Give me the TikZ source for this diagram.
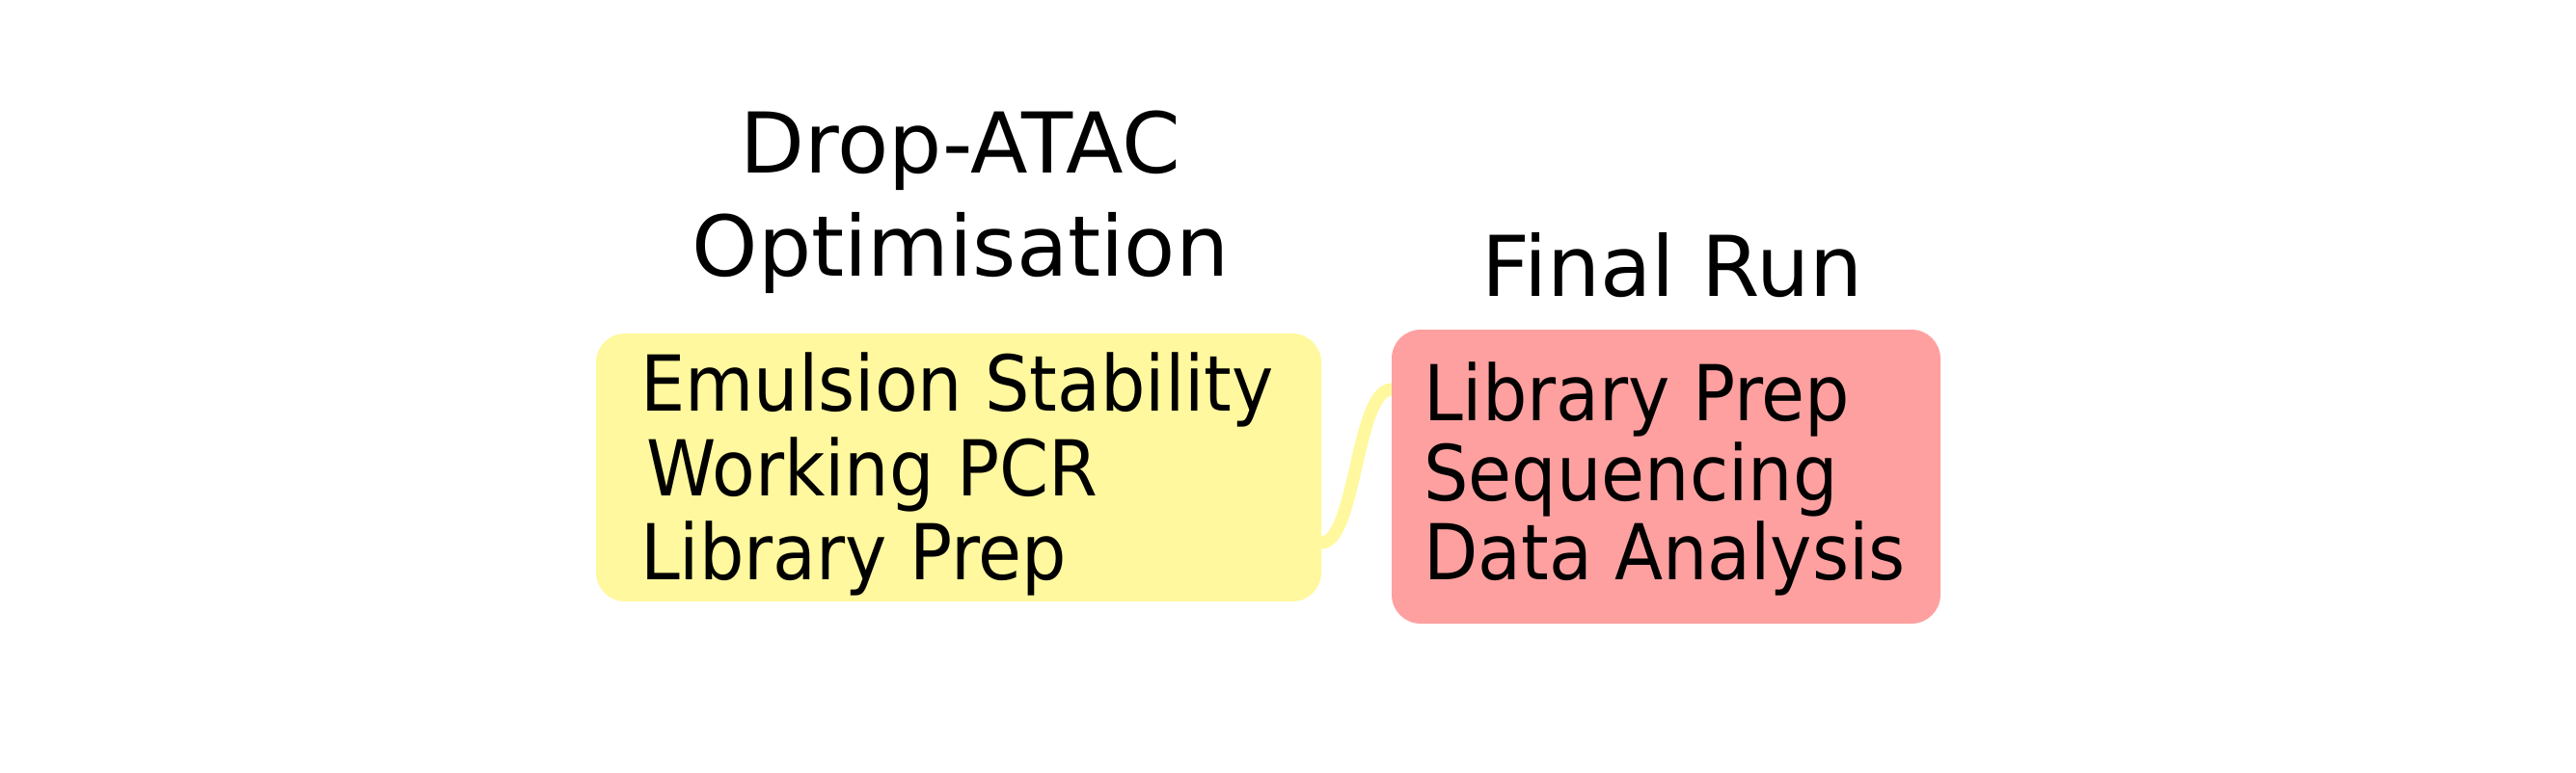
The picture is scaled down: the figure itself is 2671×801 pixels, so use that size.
\documentclass[tikz,border=0pt]{standalone}
\usepackage{fontspec}
\setmainfont{DejaVu Sans}
\newfontfamily\itemfont[FakeStretch=0.915]{DejaVu Sans}
\definecolor{ylw}{RGB}{255,248,158}
\definecolor{rd}{RGB}{255,160,160}
\begin{document}
\begin{tikzpicture}[x=1pt,y=-1pt,
  box/.style={draw=none,rounded corners=30pt,inner sep=0pt,minimum width=#1},
  title/.style={font=\fontsize{87}{105}\selectfont,align=center,inner sep=0pt},
  item/.style={font=\itemfont\fontsize{80}{88}\selectfont,anchor=base west,inner sep=0pt},
  conn/.style={draw=ylw,line width=13pt}]
\useasboundingbox (0,0) rectangle (2671,801);
% connector
\coordinate (c1) at (1360,563);
\coordinate (c2) at (1453,404);
\draw[conn] (c1) -- (1370,563) .. controls (1406,563) and (1406,404) .. (1443,404) -- (c2);
% boxes
\node[box=752pt,minimum height=278pt,fill=ylw] (ybox) at (994,485) {};
\node[box=569pt,minimum height=305pt,fill=rd] (rbox) at (1727.5,494.5) {};
% titles
\node[title,anchor=base] (t1) at (996,179) {Drop-ATAC};
\node[title,anchor=base] (t1b) at (996,286) {Optimisation};
\node[title,anchor=base] (t2) at (1734,307) {Final Run};
% items
\node[item] (y1) at (664,426) {Emulsion Stability};
\node[item] (y2) at (670,514) {Working PCR};
\node[item] (y3) at (664,601) {Library Prep};
\node[item] (r1) at (1476,436) {Library Prep};
\node[item] (r2) at (1476,519) {Sequencing};
\node[item] (r3) at (1476,601) {Data Analysis};
\end{tikzpicture}
\end{document}
